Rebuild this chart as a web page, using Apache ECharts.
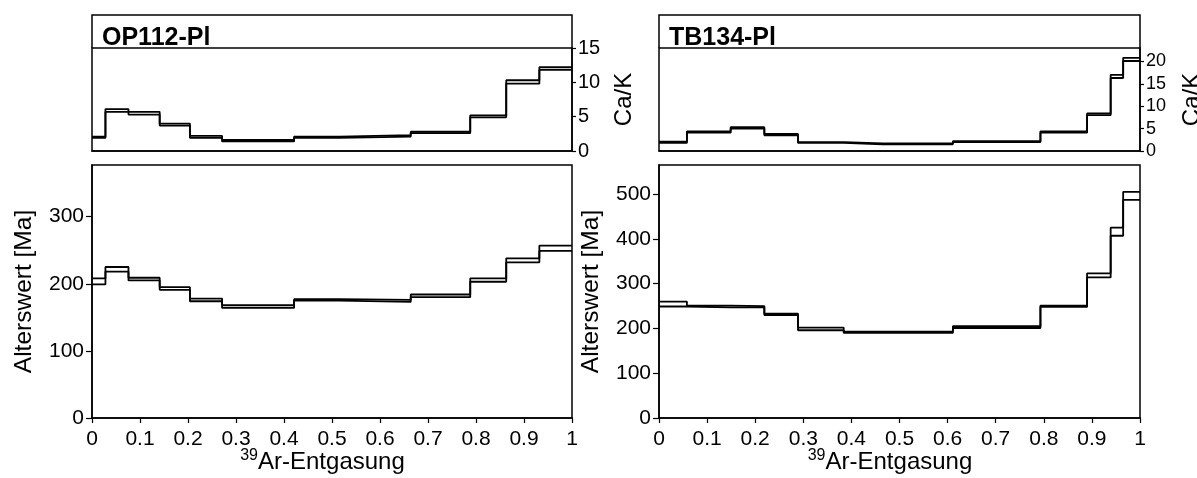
<!DOCTYPE html>
<html>
<head>
<meta charset="utf-8">
<script src="https://cdn.jsdelivr.net/npm/echarts@6/dist/echarts.min.js"></script>
<style>
html,body{margin:0;padding:0;background:#fff;}
#c{width:1197px;height:478px;}
</style>
</head>
<body>
<div id="c"></div>
<script>
// ---- data ----
const sampleNames = ['OP112-Pl', 'TB134-Pl'];
const xTicks = [0, 0.1, 0.2, 0.3, 0.4, 0.5, 0.6, 0.7, 0.8, 0.9, 1];
const ageTicksA = [0, 100, 200, 300];
const ageTicksB = [0, 100, 200, 300, 400, 500];
const cakTicksA = [0, 5, 10, 15];
const cakTicksB = [0, 5, 10, 15, 20];

// OP112-Pl: cumulative 39Ar step boundaries
const opEdges = [0, 0.028, 0.076, 0.141, 0.204, 0.271, 0.421, 0.516, 0.664, 0.788, 0.863, 0.932, 1];
const opAgeHi = [208, 225, 209, 195, 178, 168, 177, 176, 184, 208, 238, 257];
const opAgeLo = [199, 218, 205, 191, 174, 164, 175, 173, 180, 203, 232, 249];
const opCakHi = [2.1, 6.1, 5.7, 4.0, 2.2, 1.6, 2.1, 2.3, 2.8, 5.2, 10.3, 12.2];
const opCakLo = [1.9, 5.7, 5.3, 3.7, 1.9, 1.4, 1.9, 2.1, 2.6, 4.9, 9.8, 11.8];

// TB134-Pl
const tbEdges = [0, 0.058, 0.149, 0.219, 0.289, 0.384, 0.465, 0.611, 0.793, 0.890, 0.939, 0.965, 1];
const tbAgeHi = [260, 251, 250, 233, 202, 193, 193, 205, 251, 323, 425, 505];
const tbAgeLo = [249, 247, 247, 230, 196, 190, 190, 201, 248, 314, 407, 487];
const tbCakHi = [2.1, 4.4, 5.3, 3.8, 2.0, 1.7, 1.7, 2.2, 4.4, 8.4, 17.0, 20.8];
const tbCakLo = [1.8, 4.1, 5.0, 3.5, 1.8, 1.5, 1.5, 2.0, 4.1, 8.0, 16.3, 20.1];

// ---- helpers ----
function stepData(edges, vals) {
  const d = vals.map((v, i) => [edges[i], v]);
  d.push([edges[edges.length - 1], vals[vals.length - 1]]);
  return d;
}

const FONT = 'Liberation Sans, Arial, Helvetica, sans-serif';
const LW = 1.8;

// layout
const colLeft = [92, 659];
const colW = [480, 481];
const topY = 48, topH = 103;
const botY = 165, botH = 253;
const headY = 15;

const chart = echarts.init(document.getElementById('c'), null, {renderer: 'canvas'});

const grids = [];
const xAxes = [];
const yAxes = [];
const series = [];

function addPanel(col, edges, ageHi, ageLo, cakHi, cakLo, ageMax, ageTicks, cakMax, cakTicks, cakFont) {
  const gTop = grids.length;
  grids.push({left: colLeft[col], top: topY, width: colW[col], height: topH,
    outerBoundsMode: 'none', containLabel: false,
    show: true, borderColor: '#000', borderWidth: 1.5, backgroundColor: 'transparent'});
  grids.push({left: colLeft[col], top: botY, width: colW[col], height: botH,
    outerBoundsMode: 'none', containLabel: false,
    show: true, borderColor: '#000', borderWidth: 1.5, backgroundColor: 'transparent'});
  // top x axis (no labels)
  xAxes.push({gridIndex: gTop, type: 'value', min: 0, max: 1, interval: 0.1,
    axisLine: {show: true, lineStyle: {color: '#000', width: 1.5}},
    axisTick: {show: false}, axisLabel: {show: false}, splitLine: {show: false}});
  // bottom x axis
  xAxes.push({gridIndex: gTop + 1, type: 'value', min: 0, max: 1, interval: 0.1,
    axisLine: {show: true, onZero: false, lineStyle: {color: '#000', width: 1.5}},
    axisTick: {show: true, length: 5, lineStyle: {color: '#000', width: 1.2}},
    axisLabel: {color: '#000', fontSize: 21, fontFamily: FONT, margin: 11,
      formatter: v => (v === 0 ? '0' : v === 1 ? '1' : v.toFixed(1))},
    splitLine: {show: false},
    name: '{sup|39}{main|Ar-Entgasung}{pad|}', nameLocation: 'middle', nameGap: 30,
    nameMoveOverlap: false,
    nameTextStyle: {color: '#000', fontFamily: FONT,
      rich: {
        sup: {fontSize: 16, fontFamily: FONT, color: '#000', verticalAlign: 'top', lineHeight: 26},
        main: {fontSize: 24, fontFamily: FONT, color: '#000', verticalAlign: 'bottom', lineHeight: 26},
        pad: {width: 19, lineHeight: 26}
      }}
  });
  // top y axis (Ca/K, right side)
  yAxes.push({gridIndex: gTop, type: 'value', position: 'right', min: 0, max: cakMax, interval: 5,
    axisLine: {show: true, onZero: false, lineStyle: {color: '#000', width: 1.5}},
    axisTick: {show: true, length: 4, customValues: cakTicks, lineStyle: {color: '#000', width: 1.2}},
    axisLabel: {color: '#000', fontSize: cakFont, fontFamily: FONT, margin: 6, customValues: cakTicks},
    splitLine: {show: false},
    name: 'Ca/K', nameLocation: 'middle', nameRotate: 90, nameGap: 40, nameMoveOverlap: false,
    nameTextStyle: {color: '#000', fontSize: 24, fontFamily: FONT}});
  // bottom y axis (age)
  yAxes.push({gridIndex: gTop + 1, type: 'value', min: 0, max: ageMax, interval: 100,
    axisLine: {show: true, onZero: false, lineStyle: {color: '#000', width: 1.5}},
    axisTick: {show: true, length: 6, customValues: ageTicks, lineStyle: {color: '#000', width: 1.2}},
    axisLabel: {color: '#000', fontSize: 21, fontFamily: FONT, margin: 8, customValues: ageTicks},
    splitLine: {show: false},
    name: 'Alterswert [Ma]', nameLocation: 'middle', nameRotate: 90, nameGap: 55, nameMoveOverlap: false,
    nameTextStyle: {color: '#000', fontSize: 24.5, fontFamily: FONT}});

  const lineBase = {type: 'line', step: 'end', symbol: 'none', silent: true, z: 3,
    lineStyle: {color: '#000', width: LW}, animation: false};
  series.push(Object.assign({}, lineBase, {xAxisIndex: gTop, yAxisIndex: gTop, data: stepData(edges, cakHi)}));
  series.push(Object.assign({}, lineBase, {xAxisIndex: gTop, yAxisIndex: gTop, data: stepData(edges, cakLo)}));
  series.push(Object.assign({}, lineBase, {xAxisIndex: gTop + 1, yAxisIndex: gTop + 1, data: stepData(edges, ageHi)}));
  series.push(Object.assign({}, lineBase, {xAxisIndex: gTop + 1, yAxisIndex: gTop + 1, data: stepData(edges, ageLo)}));
}

addPanel(0, opEdges, opAgeHi, opAgeLo, opCakHi, opCakLo, 377, ageTicksA, 15, cakTicksA, 20);
addPanel(1, tbEdges, tbAgeHi, tbAgeLo, tbCakHi, tbCakLo, 565, ageTicksB, 23, cakTicksB, 18);

// header frame above each Ca/K panel (top, left, right edges)
const graphics = [];
for (let c = 0; c < 2; c++) {
  const x0 = colLeft[c], x1 = colLeft[c] + colW[c];
  graphics.push({type: 'polyline', silent: true,
    shape: {points: [[x0, topY], [x0, headY], [x1, headY], [x1, topY]]},
    style: {fill: null, stroke: '#000', lineWidth: 1.5}});
}

const titles = sampleNames.map((n, i) => ({
  text: n, left: colLeft[i] + 10, top: headY + 11, padding: 0,
  textStyle: {color: '#000', fontSize: 25, fontWeight: 'bold', fontFamily: FONT}
}));

chart.setOption({
  backgroundColor: '#fff',
  animation: false,
  title: titles,
  grid: grids,
  xAxis: xAxes,
  yAxis: yAxes,
  series: series,
  graphic: graphics
});
</script>
</body>
</html>
